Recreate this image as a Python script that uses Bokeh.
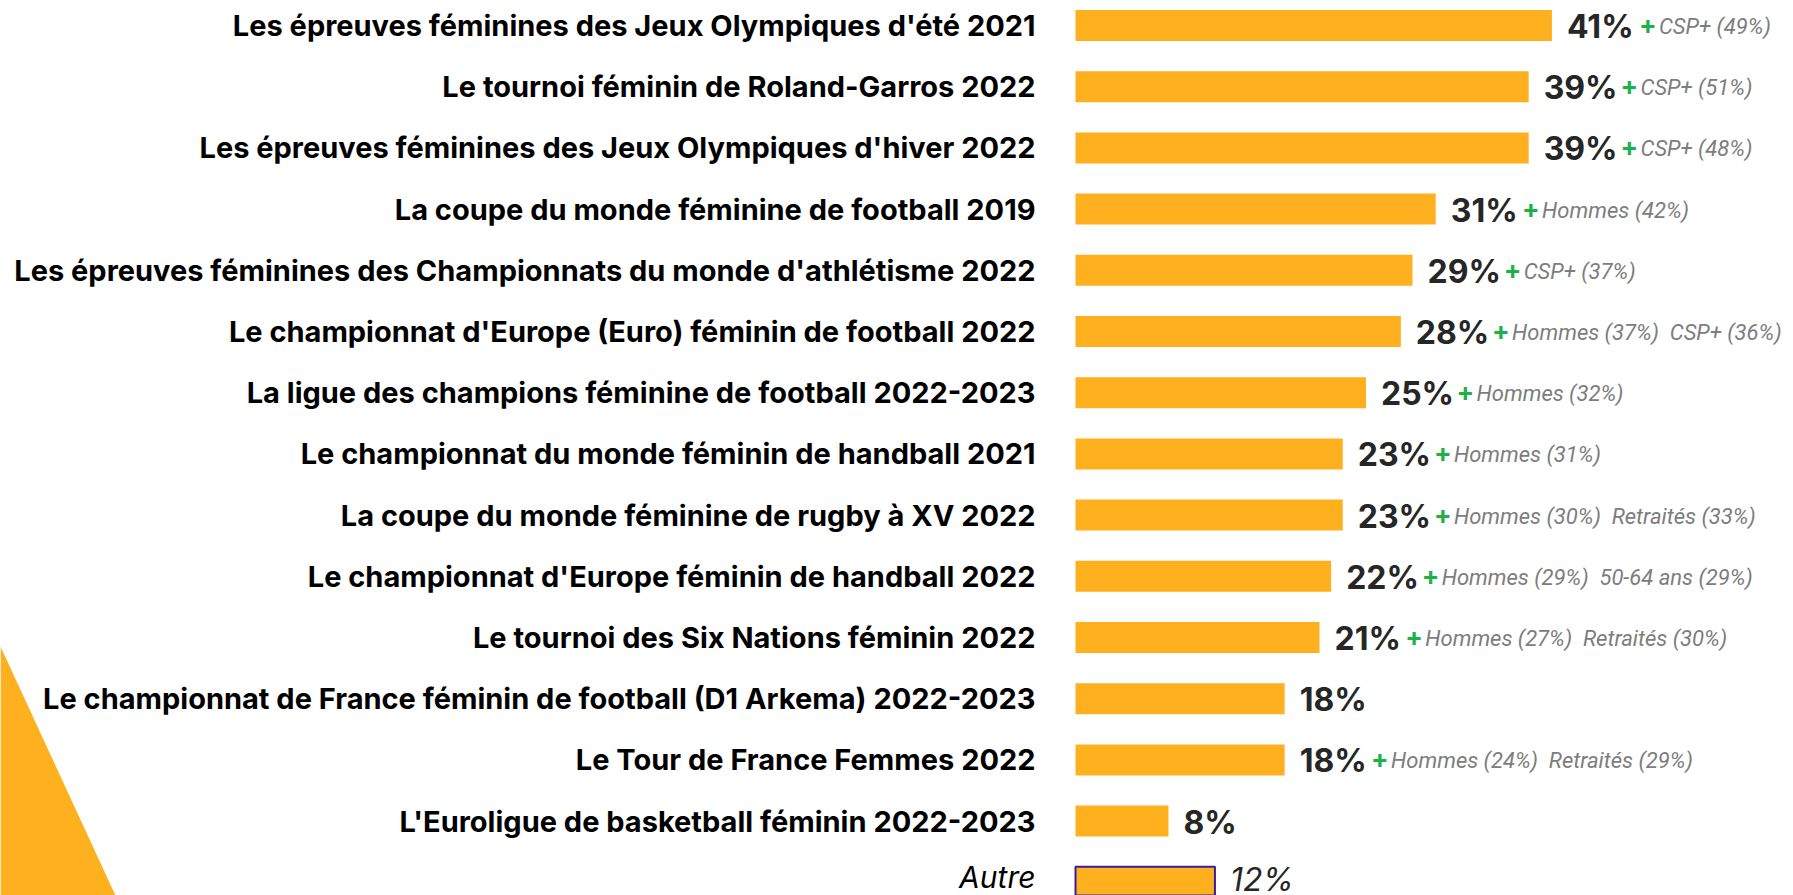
from bokeh.plotting import figure
from bokeh.models import Range1d, ColumnDataSource
from bokeh.core.properties import value
from bokeh.embed import file_html
from bokeh.resources import INLINE

# ---------------- data ----------------
categories = [
    "Les épreuves féminines des Jeux Olympiques d'été 2021",
    "Le tournoi féminin de Roland-Garros 2022",
    "Les épreuves féminines des Jeux Olympiques d'hiver 2022",
    "La coupe du monde féminine de football 2019",
    "Les épreuves féminines des Championnats du monde d'athlétisme 2022",
    "Le championnat d'Europe (Euro) féminin de football 2022",
    "La ligue des champions féminine de football 2022-2023",
    "Le championnat du monde féminin de handball 2021",
    "La coupe du monde féminine de rugby à XV 2022",
    "Le championnat d'Europe féminin de handball 2022",
    "Le tournoi des Six Nations féminin 2022",
    "Le championnat de France féminin de football (D1 Arkema) 2022-2023",
    "Le Tour de France Femmes 2022",
    "L'Euroligue de basketball féminin 2022-2023",
]
values = [41, 39, 39, 31, 29, 28, 25, 23, 23, 22, 21, 18, 18, 8]
highlights = [
    "CSP+ (49%)",
    "CSP+ (51%)",
    "CSP+ (48%)",
    "Hommes (42%)",
    "CSP+ (37%)",
    "Hommes (37%) \u00a0CSP+ (36%)",
    "Hommes (32%)",
    "Hommes (31%)",
    "Hommes (30%) \u00a0Retraités (33%)",
    "Hommes (29%) \u00a050-64 ans (29%)",
    "Hommes (27%) \u00a0Retraités (30%)",
    "",
    "Hommes (24%) \u00a0Retraités (29%)",
    "",
]
other_label = "Autre"
other_value = 12

# ---------------- layout constants ----------------
W, H = 1793, 895
MARGIN = 0
PX_PER_PCT = 11.62
X0_PAGE = 1075.0
ROW0_PAGE = 25.0
ROW_STEP = 61.2

def to_x(px):
    return (px - X0_PAGE) / PX_PER_PCT

def to_y(py):
    return (py - ROW0_PAGE) / ROW_STEP

x_range = Range1d(to_x(MARGIN), to_x(MARGIN + W))
y_range = Range1d(to_y(MARGIN + H), to_y(MARGIN))

p = figure(width=W, height=H, x_range=x_range, y_range=y_range,
           x_axis_type=None, y_axis_type=None,
           output_backend="svg", toolbar_location=None, min_border=0)
p.grid.visible = False
p.outline_line_color = None
p.background_fill_color = "white"
p.border_fill_color = "white"

ORANGE = "#FFB01F"

# decorative triangle (bottom-left)
tri_x = [to_x(0), to_x(115), to_x(0)]
tri_y = [to_y(646), to_y(895), to_y(895)]
p.patch(tri_x, tri_y, fill_color=ORANGE, line_color=None)

n = len(categories)
idx = list(range(n))

# value label widths (estimate, Inter bold 32px)
cw = {'0': 0.64, '1': 0.45, '2': 0.6, '3': 0.62, '4': 0.64, '5': 0.6,
      '6': 0.62, '7': 0.56, '8': 0.62, '9': 0.62, '%': 0.88}
vtxt = [f"{v}%" for v in values]
vw = [sum(cw[c] for c in t) * 32 for t in vtxt]
plus_off = [15 + w + 9 for w in vw]
demo_off = [o + 20 for o in plus_off]

src = ColumnDataSource(dict(y=idx, cat=categories, v=values, vt=vtxt,
                            po=plus_off, do=demo_off))

p.hbar(y="y", left=0, right="v", height=0.507, source=src,
       fill_color=ORANGE, line_color=None)

p.text(x=0, y="y", text="cat", source=src, x_offset=-40,
       text_align="right", text_baseline="middle",
       text_font=value("Inter"), text_font_style="bold",
       text_font_size="29px", text_color="#000000")

p.text(x="v", y="y", text="vt", source=src, x_offset=15, y_offset=1,
       text_align="left", text_baseline="middle",
       text_font=value("Inter"), text_font_style="bold",
       text_font_size="32px", text_color="#262626")

hi = [i for i in idx if highlights[i]]
hsrc = ColumnDataSource(dict(
    y=[i for i in hi], v=[values[i] for i in hi],
    plus=["+" for i in hi], txt=[highlights[i] for i in hi],
    po=[plus_off[i] for i in hi], do=[demo_off[i] for i in hi]))

p.text(x="v", y="y", text="plus", source=hsrc, x_offset="po", y_offset=-1,
       text_align="left", text_baseline="middle",
       text_font=value("Inter"), text_font_style="bold",
       text_font_size="26px", text_color="#1DB14B")

p.text(x="v", y="y", text="txt", source=hsrc, x_offset="do", y_offset=1,
       text_align="left", text_baseline="middle",
       text_font=value("Roboto"), text_font_style="italic",
       text_font_size="22px", text_color="#7d7d7d")

# "Autre" row
osrc = ColumnDataSource(dict(y=[n], v=[other_value], lab=[other_label],
                             vt=[f"{other_value}%"]))
p.hbar(y="y", left=0, right="v", height=0.507, source=osrc,
       fill_color=ORANGE, line_color="#3B1C9C", line_width=2)
p.text(x=0, y="y", text="lab", source=osrc, x_offset=-40, y_offset=-5,
       text_align="right", text_baseline="middle",
       text_font=value("Inter"), text_font_style="italic",
       text_font_size="30px", text_color="#000000")
p.text(x="v", y="y", text="vt", source=osrc, x_offset=15, y_offset=-3,
       text_align="left", text_baseline="middle",
       text_font=value("Inter"), text_font_style="italic",
       text_font_size="32px", text_color="#262626")

open("out.html", "w").write(file_html(p, INLINE))
